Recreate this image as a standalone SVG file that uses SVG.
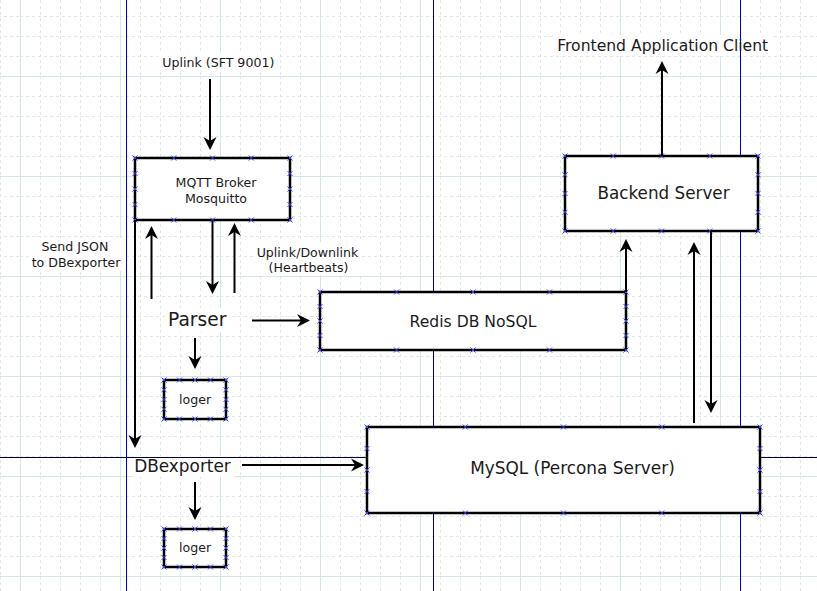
<svg xmlns="http://www.w3.org/2000/svg" xmlns:xlink="http://www.w3.org/1999/xlink" width="817" height="591" viewBox="0 0 817 591">
<style>
  .box { fill: #ffffff; stroke: #000000; stroke-width: 2.5; }
  .t { font-family: "DejaVu Sans", "Liberation Sans", sans-serif; fill: #1a1a1a; text-anchor: middle; }
  .s { font-size: 12.6px; }
  .m { font-size: 15.6px; }
  .l { font-size: 16.9px; }
  .conn line { stroke: #000000; stroke-width: 2; fill: none; }
  .bg { fill: #ffffff; }
</style>
<defs>
  <pattern id="grid" patternUnits="userSpaceOnUse" x="20" y="76" width="100" height="100">
    <path d="M20.5,0 V100 M40.5,0 V100 M60.5,0 V100 M80.5,0 V100 M0,20.5 H100 M0,40.5 H100 M0,60.5 H100 M0,80.5 H100" stroke="#dfe8e8" stroke-width="1" stroke-dasharray="3,3" fill="none"/>
    <path d="M0.5,0 V100 M0,0.5 H100" stroke="#d6e5e5" stroke-width="1" fill="none"/>
  </pattern>
  <marker id="arr" markerUnits="userSpaceOnUse" markerWidth="14" markerHeight="14" viewBox="0 0 14 14" refX="4" refY="7" orient="auto">
    <path d="M0,0.5 L13,7 L0,13.5 L4,7 Z" fill="#000000"/>
  </marker>
  <path id="x" d="M-2.5,-2.5 L2.5,2.5 M-2.5,2.5 L2.5,-2.5" stroke="#3c3cf0" stroke-width="1" fill="none"/>
</defs>

<rect x="0" y="0" width="817" height="591" fill="#ffffff"/>
<rect x="0" y="0" width="817" height="591" fill="url(#grid)"/>

<g id="label-backgrounds">
  <rect class="bg" x="158" y="53" width="121" height="19"/>
  <rect class="bg" x="33" y="238" width="93" height="33"/>
  <rect class="bg" x="254" y="242" width="108" height="33"/>
  <rect class="bg" x="165" y="308" width="65" height="24"/>
  <rect class="bg" x="553" y="35" width="219" height="21"/>
  <rect class="bg" x="133" y="456" width="101" height="21"/>
</g>

<g id="guides">
  <line x1="126.5" y1="0" x2="126.5" y2="591" stroke="#0000c0" stroke-width="1"/>
  <line x1="740.5" y1="0" x2="740.5" y2="591" stroke="#0000c0" stroke-width="1"/>
  <line x1="433.5" y1="0" x2="433.5" y2="591" stroke="#000060" stroke-width="1"/>
  <line x1="0" y1="457.5" x2="817" y2="457.5" stroke="#000040" stroke-width="1"/>
</g>

<g id="mqtt">
  <rect class="box" x="135" y="158" width="155" height="62"/>
  <text class="t s" x="216" y="187.3">MQTT Broker</text>
  <text class="t s" x="216" y="202.7">Mosquitto</text>
</g>
<g id="backend">
  <rect class="box" x="565" y="156" width="193" height="75"/>
  <text class="t" style="font-size:16.8px" x="663.5" y="199.3">Backend Server</text>
</g>
<g id="redis">
  <rect class="box" x="320" y="292" width="306" height="58"/>
  <text class="t m" x="473" y="326.5">Redis DB NoSQL</text>
</g>
<g id="mysql">
  <rect class="box" x="367" y="427" width="393" height="86"/>
  <text class="t l" x="572.5" y="474">MySQL (Percona Server)</text>
</g>
<g id="loger1">
  <rect class="box" x="164" y="380" width="62" height="39"/>
  <text class="t s" x="195" y="404">loger</text>
</g>
<g id="loger2">
  <rect class="box" x="164" y="529" width="62" height="38"/>
  <text class="t s" x="195" y="552">loger</text>
</g>
<g id="parser">
  <text class="t" style="font-size:18.6px" x="197.2" y="325.5">Parser</text>
</g>
<g id="dbexporter">
  <text class="t l" x="182.5" y="471.7">DBexporter</text>
</g>
<g id="frontend">
  <text class="t m" x="662.7" y="50.7">Frontend Application Client</text>
</g>

<g id="connection-points">
  <use href="#x" x="135" y="158"/><use href="#x" x="173.75" y="158"/><use href="#x" x="212.5" y="158"/><use href="#x" x="251.25" y="158"/><use href="#x" x="290" y="158"/>
  <use href="#x" x="135" y="220"/><use href="#x" x="173.75" y="220"/><use href="#x" x="212.5" y="220"/><use href="#x" x="251.25" y="220"/><use href="#x" x="290" y="220"/>
  <use href="#x" x="135" y="173.5"/><use href="#x" x="135" y="189"/><use href="#x" x="135" y="204.5"/>
  <use href="#x" x="290" y="173.5"/><use href="#x" x="290" y="189"/><use href="#x" x="290" y="204.5"/>

  <use href="#x" x="565" y="156"/><use href="#x" x="613.25" y="156"/><use href="#x" x="661.5" y="156"/><use href="#x" x="709.75" y="156"/><use href="#x" x="758" y="156"/>
  <use href="#x" x="565" y="231"/><use href="#x" x="613.25" y="231"/><use href="#x" x="661.5" y="231"/><use href="#x" x="709.75" y="231"/><use href="#x" x="758" y="231"/>
  <use href="#x" x="565" y="174.75"/><use href="#x" x="565" y="193.5"/><use href="#x" x="565" y="212.25"/>
  <use href="#x" x="758" y="174.75"/><use href="#x" x="758" y="193.5"/><use href="#x" x="758" y="212.25"/>

  <use href="#x" x="320" y="292"/><use href="#x" x="396.5" y="292"/><use href="#x" x="473" y="292"/><use href="#x" x="549.5" y="292"/><use href="#x" x="626" y="292"/>
  <use href="#x" x="320" y="350"/><use href="#x" x="396.5" y="350"/><use href="#x" x="473" y="350"/><use href="#x" x="549.5" y="350"/><use href="#x" x="626" y="350"/>
  <use href="#x" x="320" y="306.5"/><use href="#x" x="320" y="321"/><use href="#x" x="320" y="335.5"/>
  <use href="#x" x="626" y="306.5"/><use href="#x" x="626" y="321"/><use href="#x" x="626" y="335.5"/>

  <use href="#x" x="367" y="427"/><use href="#x" x="465.25" y="427"/><use href="#x" x="563.5" y="427"/><use href="#x" x="661.75" y="427"/><use href="#x" x="760" y="427"/>
  <use href="#x" x="367" y="513"/><use href="#x" x="465.25" y="513"/><use href="#x" x="563.5" y="513"/><use href="#x" x="661.75" y="513"/><use href="#x" x="760" y="513"/>
  <use href="#x" x="367" y="448.5"/><use href="#x" x="367" y="470"/><use href="#x" x="367" y="491.5"/>
  <use href="#x" x="760" y="448.5"/><use href="#x" x="760" y="470"/><use href="#x" x="760" y="491.5"/>

  <use href="#x" x="164" y="380"/><use href="#x" x="179.5" y="380"/><use href="#x" x="195" y="380"/><use href="#x" x="210.5" y="380"/><use href="#x" x="226" y="380"/>
  <use href="#x" x="164" y="419"/><use href="#x" x="179.5" y="419"/><use href="#x" x="195" y="419"/><use href="#x" x="210.5" y="419"/><use href="#x" x="226" y="419"/>
  <use href="#x" x="164" y="389.75"/><use href="#x" x="164" y="399.5"/><use href="#x" x="164" y="409.25"/>
  <use href="#x" x="226" y="389.75"/><use href="#x" x="226" y="399.5"/><use href="#x" x="226" y="409.25"/>

  <use href="#x" x="164" y="529"/><use href="#x" x="179.5" y="529"/><use href="#x" x="195" y="529"/><use href="#x" x="210.5" y="529"/><use href="#x" x="226" y="529"/>
  <use href="#x" x="164" y="567"/><use href="#x" x="179.5" y="567"/><use href="#x" x="195" y="567"/><use href="#x" x="210.5" y="567"/><use href="#x" x="226" y="567"/>
  <use href="#x" x="164" y="538.5"/><use href="#x" x="164" y="548"/><use href="#x" x="164" y="557.5"/>
  <use href="#x" x="226" y="538.5"/><use href="#x" x="226" y="548"/><use href="#x" x="226" y="557.5"/>
</g>

<g id="connectors" class="conn">
  <line x1="210" y1="79" x2="210" y2="141" marker-end="url(#arr)"/>
  <line x1="212.5" y1="221" x2="212.5" y2="285" marker-end="url(#arr)"/>
  <line x1="234.5" y1="293" x2="234.5" y2="232" marker-end="url(#arr)"/>
  <line x1="151.5" y1="299" x2="151.5" y2="235" marker-end="url(#arr)"/>
  <line x1="135" y1="220" x2="135" y2="439" marker-end="url(#arr)"/>
  <line x1="252" y1="320.5" x2="301" y2="320.5" marker-end="url(#arr)"/>
  <line x1="195" y1="338" x2="195" y2="360" marker-end="url(#arr)"/>
  <line x1="242" y1="465" x2="355" y2="465" marker-end="url(#arr)"/>
  <line x1="195" y1="482" x2="195" y2="511" marker-end="url(#arr)"/>
  <line x1="626" y1="292" x2="626" y2="248" marker-end="url(#arr)"/>
  <line x1="662" y1="156" x2="662" y2="70" marker-end="url(#arr)"/>
  <line x1="694" y1="423" x2="694" y2="251" marker-end="url(#arr)"/>
  <line x1="711" y1="231" x2="711" y2="404" marker-end="url(#arr)"/>
</g>

<g id="labels">
  <text class="t s" x="218.3" y="67.3">Uplink (SFT 9001)</text>
  <text class="t s" x="75" y="250.7">Send JSON</text>
  <text class="t s" x="76" y="266.7">to DBexporter</text>
  <text class="t s" x="307.5" y="256.7">Uplink/Downlink</text>
  <text class="t s" x="308.5" y="271.7">(Heartbeats)</text>
</g>
</svg>
